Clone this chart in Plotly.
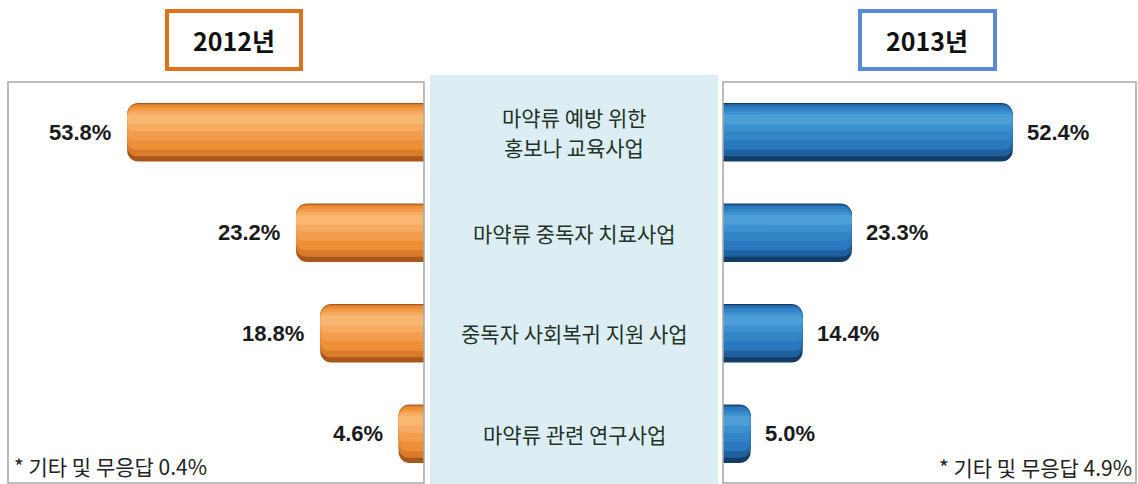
import plotly.graph_objects as go

# data
categories = ["마약류 예방 위한<br>홍보나 교육사업", "마약류 중독자 치료사업",
              "중독자 사회복귀 지원 사업", "마약류 관련 연구사업"]
values_2012 = [53.8, 23.2, 18.8, 4.6]
values_2013 = [52.4, 23.3, 14.4, 5.0]
year_labels = ["2012년", "2013년"]
footnotes = ["* 기타 및 무응답 0.4%", "* 기타 및 무응답 4.9%"]

W, H = 1138, 484


def px(x):
    return x / W


def py(y):
    return 1 - y / H


rows = list(range(len(categories)))

# fake cylinder shading: stacked layers from dark edge to light highlight
# (color, width, offset, corner radius)
orange = [("#a9561a", 0.58, -0.29, 11), ("#d97b2a", 0.52, -0.28, 10), ("#ec8f36", 0.44, -0.265, 9),
          ("#f29d4b", 0.32, -0.24, 7), ("#f6ab60", 0.20, -0.21, 5), ("#f9b772", 0.10, -0.18, 3)]
blue = [("#133d68", 0.58, -0.29, 11), ("#1f609e", 0.52, -0.28, 10), ("#2a78bd", 0.44, -0.265, 9),
        ("#3385c6", 0.32, -0.24, 7), ("#3e91cf", 0.20, -0.21, 5), ("#4d9dd7", 0.10, -0.18, 3)]

fig = go.Figure()
for color, width, offset, rad in orange:
    fig.add_trace(go.Bar(
        x=values_2012, y=rows, orientation="h", xaxis="x", yaxis="y",
        marker=dict(color=color, cornerradius=rad, line=dict(width=0)),
        width=width, offset=offset, hoverinfo="skip", showlegend=False))
for color, width, offset, rad in blue:
    fig.add_trace(go.Bar(
        x=values_2013, y=rows, orientation="h", xaxis="x2", yaxis="y",
        marker=dict(color=color, cornerradius=rad, line=dict(width=0)),
        width=width, offset=offset, hoverinfo="skip", showlegend=False))

label_font = dict(family="Liberation Sans Narrow, Liberation Sans, Arial", size=22, color="#1a1a1a")
annotations = []
for i, v in enumerate(values_2012):
    annotations.append(dict(x=v, y=i, xref="x", yref="y", text=f"<b>{v:.1f}%</b>",
                            showarrow=False, xanchor="right", yanchor="middle", xshift=-14,
                            font=label_font))
for i, v in enumerate(values_2013):
    annotations.append(dict(x=v, y=i, xref="x2", yref="y", text=f"<b>{v:.1f}%</b>",
                            showarrow=False, xanchor="left", yanchor="middle", xshift=12,
                            font=label_font))

# category names in the middle band, one annotation per line
cat_font = dict(family="Noto Sans CJK KR", size=21, color="#1f3328")
for i, c in enumerate(categories):
    lines = c.split("<br>")
    n = len(lines)
    for k, line in enumerate(lines):
        annotations.append(dict(x=px(574), y=i, xref="paper", yref="y", text=line, showarrow=False,
                                xanchor="center", yanchor="middle", yshift=(n - 1) * 15 - k * 30,
                                font=cat_font))

# year boxes
title_font = dict(family="Liberation Sans Narrow, Noto Sans CJK KR", size=25, color="#111111")
annotations.append(dict(x=px(234), y=py(40), xref="paper", yref="paper", text=f"<b>{year_labels[0]}</b>",
                        showarrow=False, xanchor="center", yanchor="middle", font=title_font))
annotations.append(dict(x=px(927), y=py(40), xref="paper", yref="paper", text=f"<b>{year_labels[1]}</b>",
                        showarrow=False, xanchor="center", yanchor="middle", font=title_font))

foot_font = dict(family="Noto Sans CJK KR", size=21, color="#222222")
annotations.append(dict(x=px(12), y=py(466), xref="paper", yref="paper", text=footnotes[0],
                        showarrow=False, xanchor="left", yanchor="middle", font=foot_font))
annotations.append(dict(x=px(1134), y=py(467), xref="paper", yref="paper", text=footnotes[1],
                        showarrow=False, xanchor="right", yanchor="middle", font=foot_font))

shapes = [
    # center panel
    dict(type="rect", xref="paper", yref="paper", x0=px(430), x1=px(718), y0=py(486), y1=py(75),
         fillcolor="#dcedf3", line=dict(width=0), layer="below"),
    # side panels
    dict(type="rect", xref="paper", yref="paper", x0=px(8), x1=px(424), y0=py(483), y1=py(82),
         fillcolor="rgba(0,0,0,0)", line=dict(color="#a6a6a6", width=1.5)),
    dict(type="rect", xref="paper", yref="paper", x0=px(723), x1=px(1136), y0=py(483), y1=py(82),
         fillcolor="rgba(0,0,0,0)", line=dict(color="#a6a6a6", width=1.5)),
    # year boxes
    dict(type="rect", xref="paper", yref="paper", x0=px(167), x1=px(301), y0=py(69), y1=py(11),
         fillcolor="white", line=dict(color="#e0701c", width=4), layer="below"),
    dict(type="rect", xref="paper", yref="paper", x0=px(860), x1=px(995), y0=py(69), y1=py(11),
         fillcolor="white", line=dict(color="#5a8ad4", width=4), layer="below"),
]

fig.update_layout(
    width=W, height=H,
    margin=dict(l=0, r=0, t=0, b=0),
    paper_bgcolor="white", plot_bgcolor="rgba(0,0,0,0)",
    barmode="overlay",
    xaxis=dict(domain=[px(8), px(424)], range=[75.4, 0], visible=False, fixedrange=True),
    xaxis2=dict(domain=[px(723), px(1136)], range=[0, 74.7], visible=False, fixedrange=True),
    yaxis=dict(domain=[0, py(82)], range=[3.5, -0.5], visible=False, fixedrange=True),
    annotations=annotations,
    shapes=shapes,
)

# drop the default page margin so the figure sits at the window origin
fig.write_html("out.html", config=dict(displayModeBar=False),
               post_script="document.body.style.margin='0';")
